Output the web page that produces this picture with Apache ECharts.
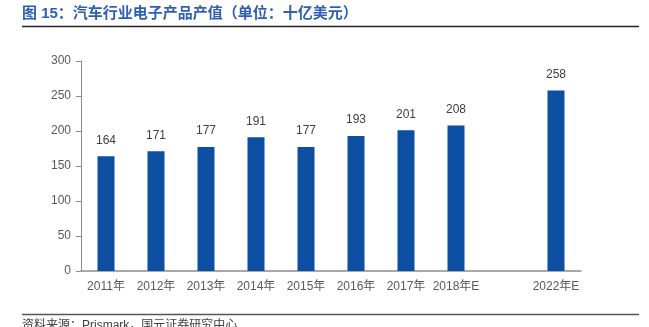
<!DOCTYPE html>
<html>
<head>
<meta charset="utf-8">
<script src="https://cdn.jsdelivr.net/npm/echarts@6/dist/echarts.min.js"></script>
<style>
  html, body { margin: 0; padding: 0; background: #fff; }
  #chart { width: 649px; height: 327px; }
</style>
</head>
<body>
<div id="chart"></div>
<script>
// Automotive electronics output value, billion USD
const categories = ['2011年', '2012年', '2013年', '2014年', '2015年', '2016年', '2017年', '2018年E', '', '2022年E'];
const values = [164, 171, 177, 191, 177, 193, 201, 208, null, 258];
const yTicks = { min: 0, max: 300, interval: 50 };

const titleText = '图 15：汽车行业电子产品产值（单位：十亿美元）';
const sourceText = '资料来源：Prismark，国元证券研究中心';

const FONT = '"Liberation Sans", Arial, "Noto Sans CJK SC", sans-serif';

const chart = echarts.init(document.getElementById('chart'), null, { renderer: 'canvas' });
chart.setOption({
  animation: false,
  backgroundColor: '#ffffff',
  grid: { left: 81, right: 68, top: 61, bottom: 56, containLabel: false },
  xAxis: {
    type: 'category',
    data: categories,
    axisLine: { lineStyle: { color: '#8c8c8c', width: 1.5 } },
    axisTick: { show: false },
    axisLabel: { color: '#595959', fontSize: 12, fontFamily: FONT, margin: 10, interval: 0 }
  },
  yAxis: {
    type: 'value',
    min: yTicks.min,
    max: yTicks.max,
    interval: yTicks.interval,
    axisLine: { show: true, lineStyle: { color: '#8c8c8c', width: 1 } },
    axisTick: { show: true, inside: false, length: 5, lineStyle: { color: '#8c8c8c' } },
    splitLine: { show: false },
    axisLabel: { color: '#595959', fontSize: 12, fontFamily: FONT, margin: 10 }
  },
  series: [{
    type: 'bar',
    data: values,
    barWidth: 17,
    itemStyle: { color: '#0b4ea2' },
    label: {
      show: true,
      position: 'top',
      distance: 10,
      color: '#404040',
      fontSize: 12,
      fontFamily: FONT
    }
  }],
  graphic: [
    {
      type: 'text', left: 22, top: 6,
      style: { text: titleText, fill: '#2f5fae', font: 'bold 15px ' + FONT }
    },
    {
      type: 'line', shape: { x1: 22, y1: 26.5, x2: 639, y2: 26.5 },
      style: { stroke: '#222222', lineWidth: 1.5 }
    },
    {
      type: 'line', shape: { x1: 22, y1: 314.5, x2: 639, y2: 314.5 },
      style: { stroke: '#555555', lineWidth: 1.5 }
    },
    {
      type: 'text', left: 22, top: 320,
      style: { text: sourceText, fill: '#404040', font: '12px ' + FONT }
    }
  ]
});
</script>
</body>
</html>
